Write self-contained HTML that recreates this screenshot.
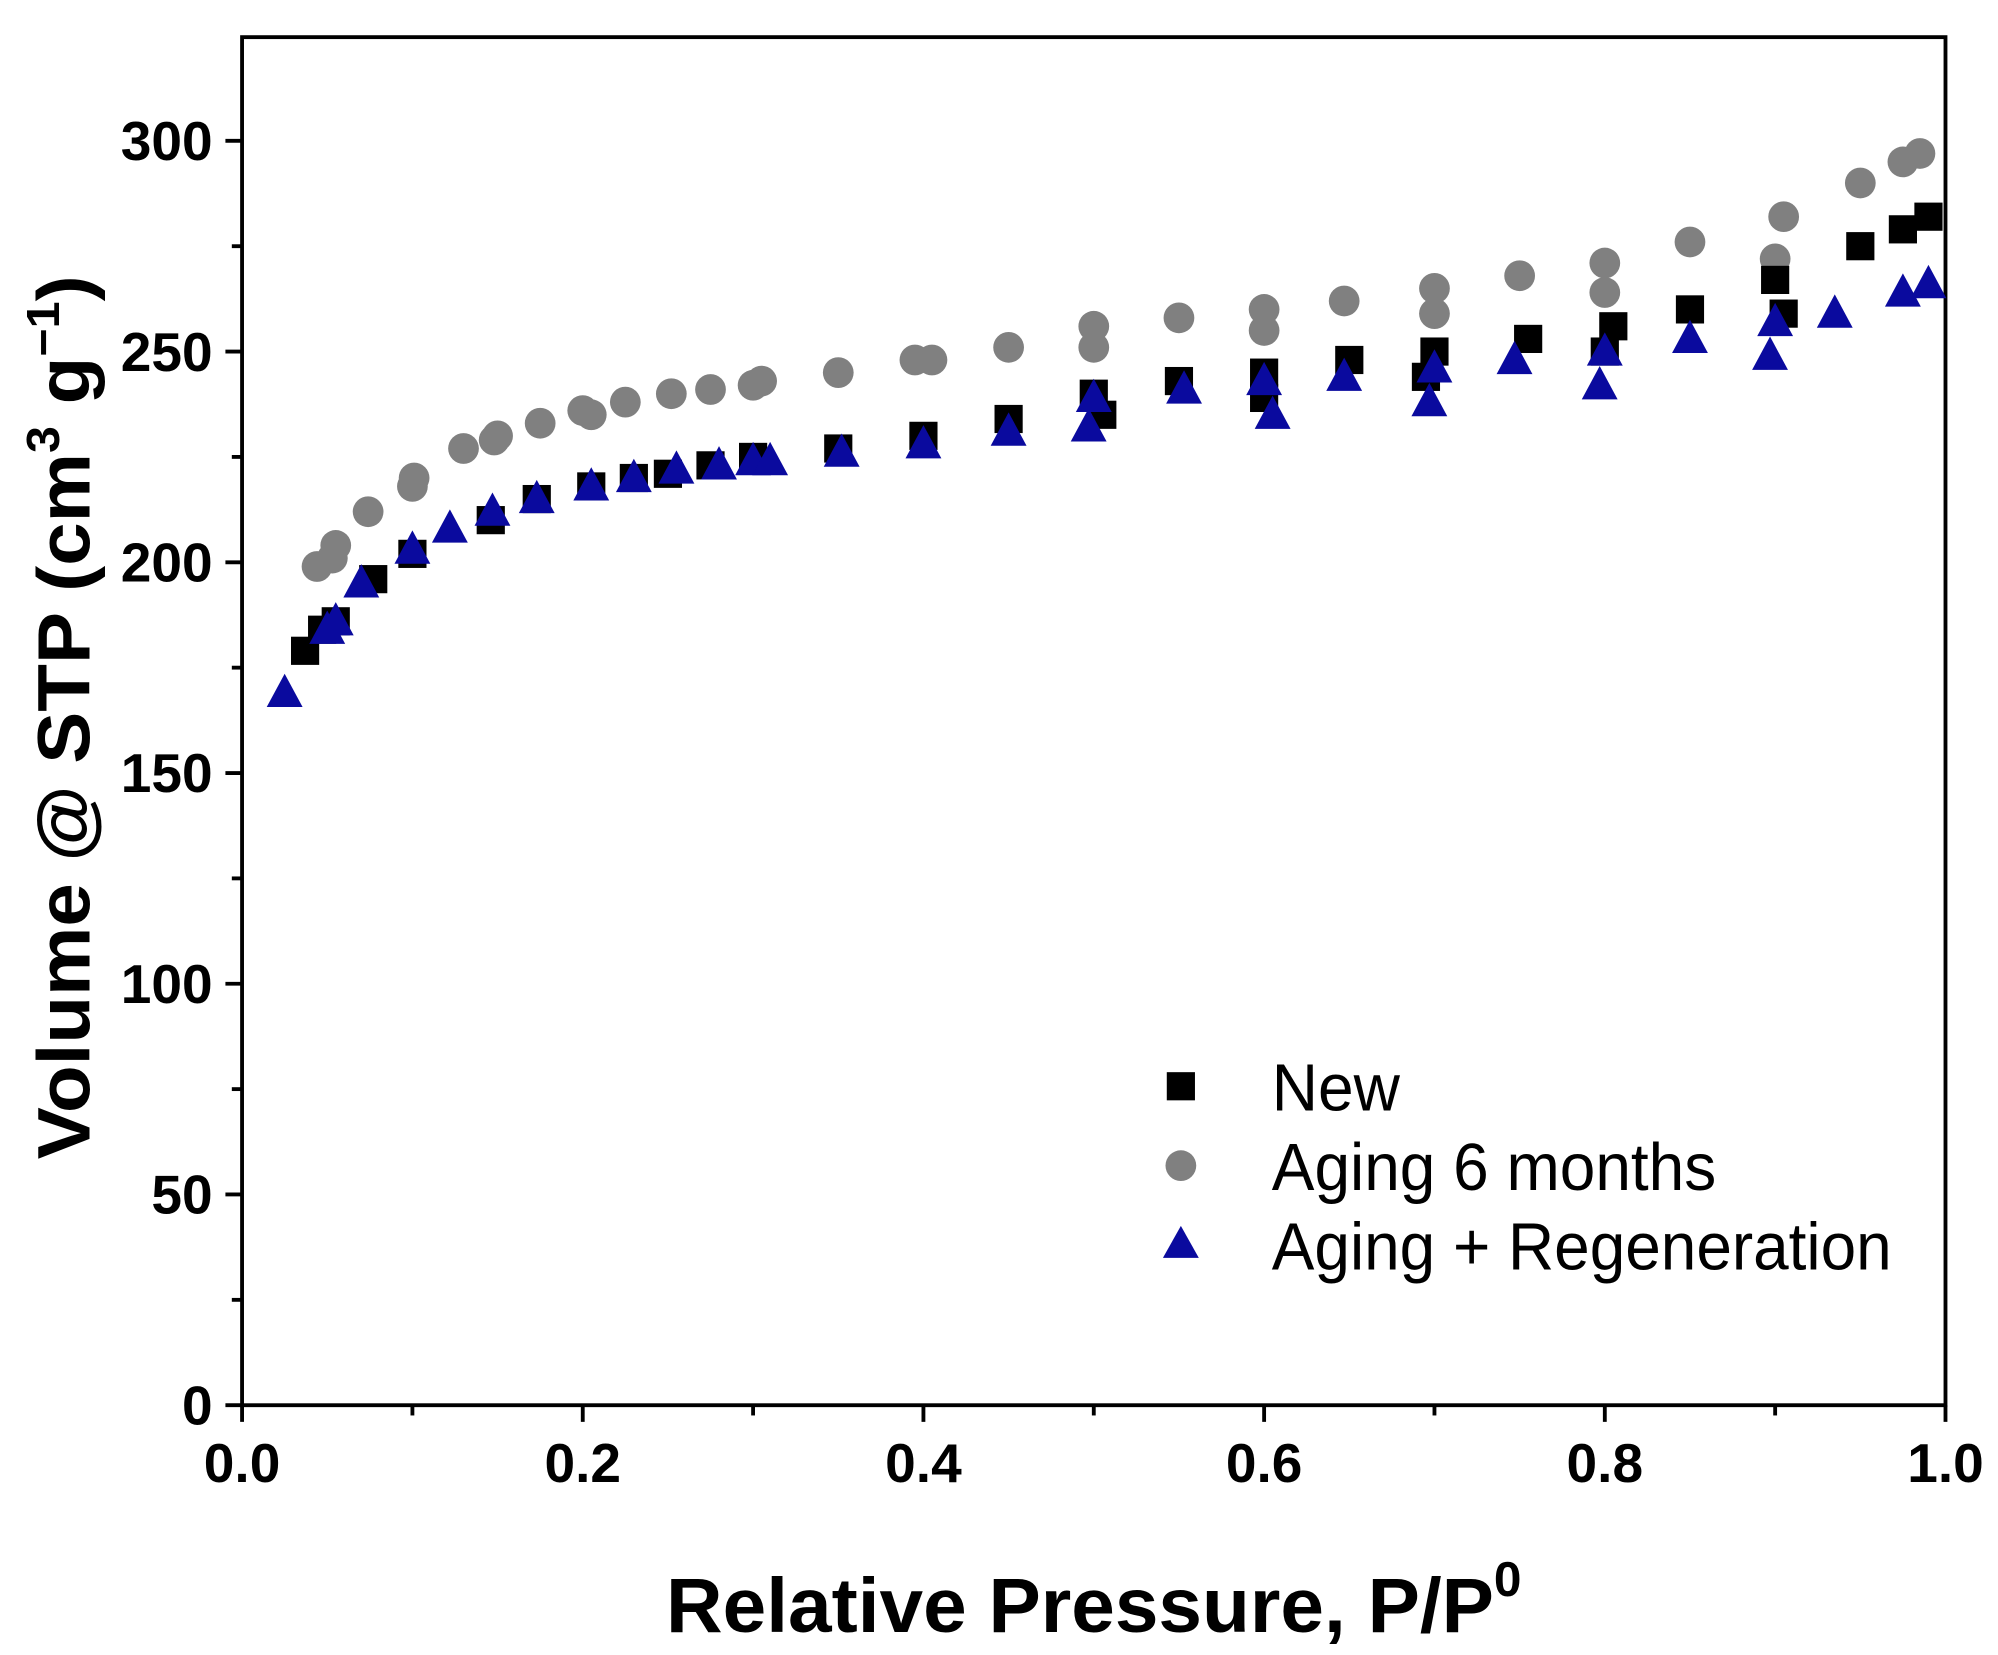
<!DOCTYPE html>
<html><head><meta charset="utf-8"><style>
html,body{margin:0;padding:0;background:#fff;}
svg{display:block;}
text{font-family:"Liberation Sans",Arial,sans-serif;}
</style></head><body>
<svg id="chart" width="1998" height="1655" viewBox="0 0 1560 1292" preserveAspectRatio="none" xmlns="http://www.w3.org/2000/svg">
<g id="axes"></g>
<g id="marks"></g>
<text transform="translate(70,560) rotate(-90)" text-anchor="middle" font-size="58" font-weight="bold" textLength="690" lengthAdjust="spacingAndGlyphs">Volume @ STP (cm<tspan font-size="36" dy="-24">3</tspan><tspan dy="24"> g</tspan><tspan font-size="36" dy="-24">−1</tspan><tspan dy="24">)</tspan></text>
<text x="854" y="1274" text-anchor="middle" font-size="60" font-weight="bold" textLength="668" lengthAdjust="spacingAndGlyphs">Relative Pressure, P/P<tspan font-size="38" dy="-28">0</tspan></text>
<g>
<rect x="911" y="837" width="22" height="22" fill="#000"/>
<text x="993" y="867" font-size="52" textLength="100" lengthAdjust="spacingAndGlyphs">New</text>
<circle cx="922" cy="910" r="12" fill="#808080"/>
<text x="993" y="929" font-size="52" textLength="347" lengthAdjust="spacingAndGlyphs">Aging 6 months</text>
<polygon points="922,957 908,982 936,982" fill="#0a0a9e"/>
<text x="993" y="991" font-size="52" textLength="484" lengthAdjust="spacingAndGlyphs">Aging + Regeneration</text>
</g>
</svg>
<script>
const newX=[0.037,0.047,0.055,0.077,0.1,0.146,0.173,0.205,0.23,0.25,0.275,0.3,0.35,0.4,0.45,0.5,0.505,0.55,0.6,0.6,0.65,0.695,0.7,0.755,0.8,0.805,0.85,0.9,0.905,0.95,0.975,0.99];
const newY=[179,184,186,196,202,210,215,218,220,221,223,225,227,230,234,240,235,243,245,239,248,244,250,253,250,256,260,267,259,275,279,282];
const agingX=[0.044,0.053,0.055,0.074,0.1,0.101,0.13,0.148,0.15,0.175,0.2,0.205,0.225,0.252,0.275,0.3,0.305,0.35,0.395,0.405,0.45,0.5,0.5,0.55,0.6,0.6,0.647,0.7,0.7,0.75,0.8,0.8,0.85,0.9,0.905,0.95,0.975,0.985];
const agingY=[199,201,204,212,218,220,227,229,230,233,236,235,238,240,241,242,243,245,248,248,251,256,251,258,260,255,262,265,259,268,271,264,276,272,282,290,295,297];
const regenX=[0.025,0.05,0.055,0.07,0.1,0.122,0.147,0.173,0.205,0.23,0.255,0.28,0.3,0.31,0.352,0.4,0.45,0.497,0.5,0.553,0.6,0.605,0.647,0.697,0.7,0.747,0.797,0.8,0.85,0.897,0.9,0.935,0.975,0.99];
const regenY=[169,184,186,195,203,208,212,215,218,220,222,223,224,224,226,228,231,232,239,241,243,235,244,238,246,248,242,250,253,249,257,259,264,266];
const xTicks=[0,0.2,0.4,0.6,0.8,1.0];
const xTickLabels=["0.0","0.2","0.4","0.6","0.8","1.0"];
const yTicks=[0,50,100,150,200,250,300];
const yTickLabels=["0","50","100","150","200","250","300"];
const L=189,R=1519,T=29,B=1097,YMAX=324.6;
const sx=v=>L+v*(R-L), sy=v=>B-v/YMAX*(B-T);
const NS="http://www.w3.org/2000/svg";
const axes=document.getElementById('axes'), marks=document.getElementById('marks');
function mk(tag,attrs,parent){const e=document.createElementNS(NS,tag);for(const k in attrs)e.setAttribute(k,attrs[k]);parent.appendChild(e);return e;}
const frame=mk('rect',{x:L,y:T,width:R-L,height:B-T,fill:'none',stroke:'#000','stroke-width':3},axes);


for(let i=0;i<=10;i++){const v=i/10,x=sx(v),len=i%2==0?13:8;
 const t=mk('line',{x1:x,x2:x,y1:B,y2:B+len,stroke:'#000','stroke-width':3},axes);
 
 }
xTicks.forEach((v,i)=>{const t=mk('text',{x:sx(v),y:B+60,'text-anchor':'middle','font-size':43,'font-weight':'bold'},axes);t.textContent=xTickLabels[i];
 
 });
for(let v=0;v<=YMAX;v+=25){const y=sy(v),len=v%50==0?13:8;
 const t=mk('line',{x1:L-len,x2:L,y1:y,y2:y,stroke:'#000','stroke-width':3},axes);
 
 }
yTicks.forEach((v,i)=>{const t=mk('text',{x:166,y:sy(v)+15,'text-anchor':'end','font-size':43,'font-weight':'bold'},axes);t.textContent=yTickLabels[i];
 
 });
agingX.forEach((v,i)=>{const c=mk('circle',{cx:sx(v),cy:sy(agingY[i]),r:12,fill:'#808080'},marks);
 
 });
newX.forEach((v,i)=>{const x=sx(v),y=sy(newY[i]);const r=mk('rect',{x:x-11,y:y-11,width:22,height:22,fill:'#000'},marks);
 
 });
regenX.forEach((v,i)=>{const x=sx(v),y=sy(regenY[i]);const p=mk('polygon',{points:`${x},${y-15} ${x-14},${y+11} ${x+14},${y+11}`,fill:'#0a0a9e'},marks);
 
 });
</script>
</body></html>
